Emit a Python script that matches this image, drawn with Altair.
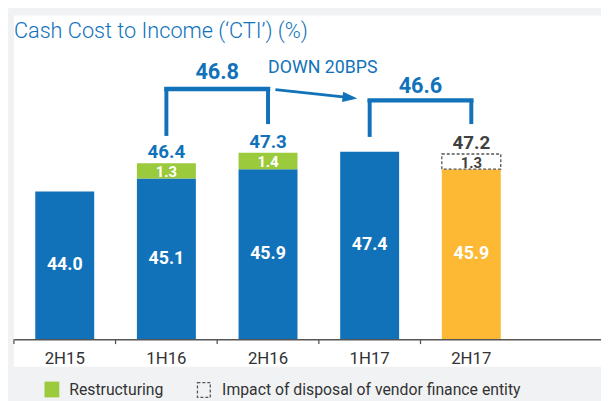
import altair as alt
import pandas as pd

# ---------------- data ----------------
periods = ["2H15", "1H16", "2H16", "1H17", "2H17"]
underlying_cti = [44.0, 45.1, 45.9, 47.4, 45.9]
restructuring = [None, 1.3, 1.4, None, None]
disposal_impact = [None, None, None, None, 1.3]
reported_cti = [None, 46.4, 47.3, None, 47.2]
period_kind = ["past", "past", "past", "past", "latest"]
full_year_start = ["1H16", "1H17"]
full_year_end = ["2H16", "2H17"]
full_year_cti = ["46.8", "46.6"]
change_from = ["2H16"]
change_to = ["1H17"]
change_text = ["DOWN 20BPS"]
title_text = ["Cash Cost to Income (‘CTI’) (%)"]
legend_labels = ["Restructuring", "Impact of disposal of vendor finance entity"]

# ---------------- style / layout ----------------
BLUE = "#1172ba"
GREEN = "#9bca3c"
ORANGE = "#fdb934"
DARK = "#404040"
BG = "#f1f2f4"
FONT = "Roboto"
W, H = 595, 328
YMIN, YMAX = 31.39, 59.02
bracket_level = [74.5, 86]
bracket_left_bottom = [122, 123]
bracket_right_bottom = [110, 110]
bracket_label_y = [57, 72]

df = pd.DataFrame({
    "period": periods,
    "underlying": underlying_cti,
    "restructuring": restructuring,
    "disposal": disposal_impact,
    "total": reported_cti,
    "kind": period_kind,
})
brackets = pd.DataFrame({"start": full_year_start, "end": full_year_end, "label": full_year_cti})
change = pd.DataFrame({"src": change_from, "dst": change_to, "label": change_text})
one = pd.DataFrame({"k": [0]})

xscale = alt.Scale(domain=periods, paddingInner=0, paddingOuter=0.388, align=0)
xaxis = alt.Axis(title=None, labelAngle=0, ticks=False, tickSize=0, labelPadding=12,
                 labelFontSize=17, labelColor="#333333", labelFont=FONT,
                 domainColor="#555555", domainWidth=1.5, grid=False, zindex=2)
yscale = alt.Scale(domain=[YMIN, YMAX], nice=False, zero=False)


def xenc(field="period", bp=None):
    if bp is None:
        return alt.X(f"{field}:N", scale=xscale, axis=xaxis)
    return alt.X(f"{field}:N", scale=xscale, axis=xaxis, bandPosition=bp)


def yenc(field):
    return alt.Y(f"{field}:Q", scale=yscale, axis=None)


base = alt.Chart(df)

panel = alt.Chart(one).mark_rect(color="white").encode(
    x=alt.value(0), x2=alt.value(W), y=alt.value(0), y2=alt.value(356))

bars = base.mark_bar(width=alt.RelativeBandSize(0.58)).encode(
    x=xenc(), y=yenc("underlying"), y2=alt.datum(YMIN),
    color=alt.Color("kind:N", scale=alt.Scale(domain=["past", "latest"], range=[BLUE, ORANGE]), legend=None))

green = base.transform_filter("isValid(datum.restructuring)").transform_calculate(
    top="datum.underlying + datum.restructuring").mark_bar(
    width=alt.RelativeBandSize(0.58), color=GREEN).encode(
    x=xenc(), y=yenc("top"), y2="underlying:Q")

dashed = base.transform_filter("isValid(datum.disposal)").transform_calculate(
    top="datum.underlying + datum.disposal").mark_bar(
    width=alt.RelativeBandSize(0.58), fill="white", stroke="#555555",
    strokeWidth=1.3, strokeDash=[3, 2]).encode(
    x=xenc(), y=yenc("top"), y2="underlying:Q")

inner = base.transform_calculate(mid=f"(datum.underlying + {YMIN}) / 2").mark_text(
    font=FONT, fontSize=18, fontWeight="bold", color="white", baseline="middle").encode(
    x=xenc(bp=0.5), y=yenc("mid"), text=alt.Text("underlying:Q", format=".1f"))

green_lbl = base.transform_filter("isValid(datum.restructuring)").transform_calculate(
    mid="datum.underlying + datum.restructuring / 2").mark_text(
    font=FONT, fontSize=15, fontWeight="bold", color="white", baseline="middle", dy=1).encode(
    x=xenc(bp=0.5), y=yenc("mid"), text=alt.Text("restructuring:Q", format=".1f"))

dashed_lbl = base.transform_filter("isValid(datum.disposal)").transform_calculate(
    mid="datum.underlying + datum.disposal / 2").mark_text(
    font=FONT, fontSize=15, fontWeight="bold", color=DARK, baseline="middle", dy=1).encode(
    x=xenc(bp=0.5), y=yenc("mid"), text=alt.Text("disposal:Q", format=".1f"))

totals = base.transform_filter("isValid(datum.total)").mark_text(
    font=FONT, fontSize=19, fontWeight="bold", baseline="alphabetic", dy=-5).encode(
    x=xenc(bp=0.5), y=yenc("total"), text=alt.Text("total:Q", format=".1f"),
    color=alt.condition(alt.datum.kind == "latest", alt.value(DARK), alt.value(BLUE)))

ticks = base.mark_rule(color="#555555", strokeWidth=1.3).encode(
    x=xenc(bp=0), y=alt.value(H), y2=alt.value(H + 5))

layers = [panel, bars, green, dashed, inner, green_lbl, dashed_lbl, totals, ticks]

for i in range(len(brackets)):
    b = alt.Chart(brackets.iloc[[i]])
    layers.append(b.mark_rule(color=BLUE, strokeWidth=4.5, strokeCap="square").encode(
        x=xenc("start", 0.5), x2=alt.X2("end:N", bandPosition=0.5), y=alt.value(bracket_level[i])))
    layers.append(b.mark_rule(color=BLUE, strokeWidth=4).encode(
        x=xenc("start", 0.5), y=alt.value(bracket_level[i]), y2=alt.value(bracket_left_bottom[i])))
    layers.append(b.mark_rule(color=BLUE, strokeWidth=4).encode(
        x=xenc("end", 0.5), y=alt.value(bracket_level[i]), y2=alt.value(bracket_right_bottom[i])))
    layers.append(b.mark_text(font=FONT, fontSize=22, fontWeight="bold", color=BLUE,
                              baseline="middle").encode(
        x=xenc("start", 1.0), y=alt.value(bracket_label_y[i]), text="label:N"))

c = alt.Chart(change)
layers.append(c.mark_text(font=FONT, fontSize=18, color=BLUE, baseline="middle", dx=4).encode(
    x=xenc("dst", 0), y=alt.value(53), text="label:N"))
layers.append(c.mark_rule(color=BLUE, strokeWidth=2.8).encode(
    x=xenc("src", 0.573), x2=alt.X2("dst:N", bandPosition=0.33),
    y=alt.value(75), y2=alt.value(83.4)))
layers.append(c.mark_point(shape="M-1,-0.7L1,0L-1,0.7Z", size=225, angle=6, filled=True,
                           color=BLUE, opacity=1).encode(
    x=xenc("dst", 0.306), y=alt.value(83.2)))

title = alt.Chart(pd.DataFrame({"t": title_text})).mark_text(
    font=FONT, fontSize=22, fontWeight=300, color=BLUE, align="left", baseline="alphabetic").encode(
    x=alt.value(0), y=alt.value(23), text="t:N")
layers.append(title)

leg = pd.DataFrame({"label": legend_labels})
layers.append(alt.Chart(one).mark_rect(color=GREEN).encode(
    x=alt.value(31), x2=alt.value(46), y=alt.value(371), y2=alt.value(387)))
layers.append(alt.Chart(one).mark_rect(fillOpacity=0, stroke="#555555", strokeWidth=1.3,
                                       strokeDash=[3, 2]).encode(
    x=alt.value(186), x2=alt.value(199), y=alt.value(372), y2=alt.value(387)))
layers.append(alt.Chart(leg.iloc[[0]]).mark_text(
    font=FONT, fontSize=16, color="#333333", align="left", baseline="middle").encode(
    x=alt.value(56), y=alt.value(380), text="label:N"))
layers.append(alt.Chart(leg.iloc[[1]]).mark_text(
    font=FONT, fontSize=16, color="#333333", align="left", baseline="middle").encode(
    x=alt.value(211), y=alt.value(380), text="label:N"))

chart = alt.layer(*layers).properties(
    width=W, height=H, background=BG,
    padding={"left": 6, "top": 5, "right": 0, "bottom": 60},
    autosize=alt.AutoSizeParams(type="none"),
).configure_view(stroke=None)

chart.save("out.html", embed_options={"renderer": "svg", "actions": False})
